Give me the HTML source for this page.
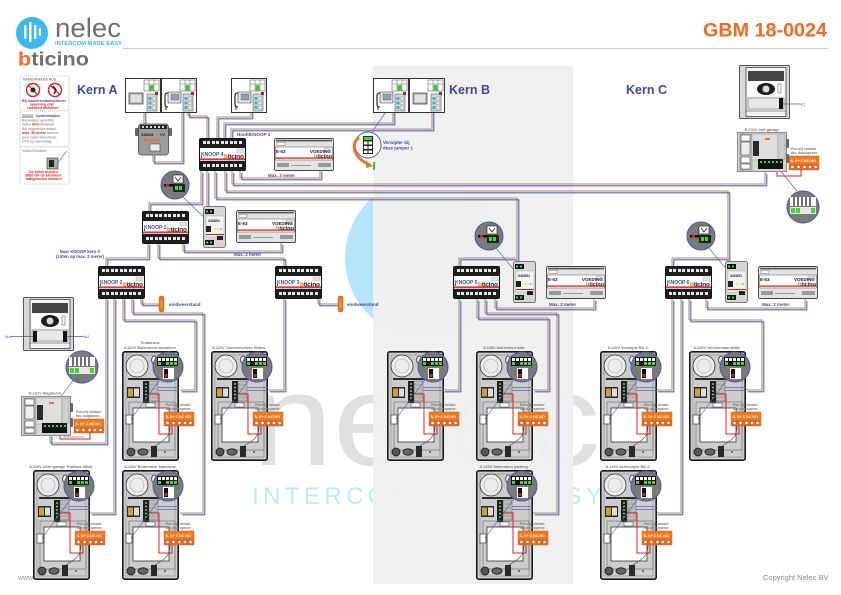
<!DOCTYPE html>
<html><head><meta charset="utf-8"><style>
html,body{margin:0;padding:0;background:#fff;}
svg{display:block;}
text{font-family:"Liberation Sans",Arial,sans-serif;}
</style></head><body>
<svg width="841" height="595" viewBox="0 0 841 595" xmlns="http://www.w3.org/2000/svg" xmlns:xlink="http://www.w3.org/1999/xlink">
<defs>
<pattern id="grille" width="2" height="2" patternUnits="userSpaceOnUse"><rect width="2" height="2" fill="#1e1e1e"/><rect x="0.5" y="0.5" width="1" height="1" fill="#bbb"/></pattern>

<symbol id="knoop" overflow="visible">
<rect x="0.5" y="0.5" width="46" height="32" rx="1.5" fill="#cfcfcf" stroke="#111" stroke-width="1"/>
<rect x="1" y="1" width="45" height="9" fill="#1e1e1e"/>
<g fill="#e6e6e6"><rect x="4" y="3" width="3" height="3"/><rect x="8" y="3" width="3" height="3"/><rect x="13" y="3" width="3" height="3"/><rect x="17" y="3" width="3" height="3"/><rect x="22" y="3" width="3" height="3"/><rect x="26" y="3" width="3" height="3"/><rect x="31" y="3" width="3" height="3"/><rect x="35" y="3" width="3" height="3"/><rect x="40" y="3" width="3" height="3"/></g>
<rect x="1" y="10" width="45" height="11" fill="#fff"/>
<rect x="38" y="11" width="7" height="4" fill="#e3e3e3" stroke="#999" stroke-width="0.3"/>
<rect x="1" y="20.5" width="45" height="1.3" fill="#d11"/>
<rect x="1" y="23" width="45" height="9" fill="#1e1e1e"/>
<g fill="#e6e6e6"><rect x="4" y="26" width="3" height="3"/><rect x="8" y="26" width="3" height="3"/><rect x="13" y="26" width="3" height="3"/><rect x="17" y="26" width="3" height="3"/><rect x="22" y="26" width="3" height="3"/><rect x="26" y="26" width="3" height="3"/><rect x="31" y="26" width="3" height="3"/><rect x="35" y="26" width="3" height="3"/><rect x="40" y="26" width="3" height="3"/></g>
<rect x="2" y="18" width="1" height="2" fill="#d11"/>
</symbol>

<symbol id="psu" overflow="visible">
<rect x="0.5" y="0.5" width="59" height="32" rx="1.5" fill="#e4e4e4" stroke="#444" stroke-width="0.9"/>
<rect x="2" y="1.8" width="56" height="1.6" fill="#555"/>
<rect x="3" y="4.5" width="8" height="3" fill="#fff" stroke="#555" stroke-width="0.4"/>
<rect x="1.5" y="9" width="57" height="13" fill="#fff" stroke="#555" stroke-width="0.5"/>
<rect x="1.5" y="19.5" width="57" height="1.2" fill="#d11"/>
<rect x="50" y="10" width="7" height="3.5" fill="#e0e0e0" stroke="#999" stroke-width="0.3"/>
<rect x="3" y="25" width="12" height="4" fill="#9a9a9a"/>
<rect x="44" y="25" width="13" height="4" fill="#9a9a9a"/>
<rect x="17" y="27" width="20" height="1" fill="#999"/>
</symbol>

<symbol id="mod" overflow="visible">
<rect x="0.5" y="0.5" width="22" height="41" rx="2" fill="#d6d6d6" stroke="#555" stroke-width="0.8"/>
<rect x="2" y="3" width="9" height="5" fill="#111"/>
<rect x="3" y="4.5" width="2" height="2" fill="#4d4"/><rect x="7" y="4.5" width="2" height="2" fill="#4d4"/>
<rect x="2" y="34" width="9" height="5" fill="#111"/>
<rect x="3" y="35.5" width="2" height="2" fill="#4d4"/><rect x="7" y="35.5" width="2" height="2" fill="#4d4"/>
<rect x="3" y="10" width="18" height="21" fill="#f3f3f3" stroke="#888" stroke-width="0.3"/>
<rect x="3" y="20" width="5" height="6" fill="#222"/>
<circle cx="12" cy="23" r="0.9" fill="#ed2"/><circle cx="15" cy="23" r="0.9" fill="#ed2"/><circle cx="18" cy="23" r="0.9" fill="#4d4"/>
<rect x="3" y="28" width="18" height="1" fill="#d11"/>
<rect x="14" y="30" width="6" height="4" fill="#222"/>
</symbol>

<symbol id="tileH" overflow="visible">
<rect x="0.5" y="0.5" width="35" height="34" fill="#fff" stroke="#333" stroke-width="1"/>
<rect x="19" y="2" width="15" height="11" fill="#fff" stroke="#444" stroke-width="0.5"/>
<path d="M24,2V13M29,2V13M19,6H34" stroke="#444" stroke-width="0.4"/>
<rect x="24.5" y="7" width="4" height="5.5" fill="#3c3"/>
<rect x="22" y="16" width="10" height="17" fill="#d5d5d5" stroke="#444" stroke-width="0.5"/>
<rect x="30" y="14" width="3" height="3" fill="#a22"/>
<g fill="#3bc"><rect x="23.5" y="19" width="3" height="3"/><rect x="23.5" y="23.5" width="3" height="3"/><rect x="23.5" y="28" width="3" height="3"/></g>
<g fill="#eee" stroke="#777" stroke-width="0.3"><rect x="27.5" y="19" width="3" height="3"/><rect x="27.5" y="23.5" width="3" height="3"/><rect x="27.5" y="28" width="3" height="3"/></g>
<rect x="7" y="14" width="13" height="11" rx="1" fill="#e6e6e6" stroke="#333" stroke-width="0.6"/>
<rect x="10" y="16" width="8" height="6" fill="#8fa3b8" stroke="#333" stroke-width="0.3"/>
<path d="M7,15 q-3,0 -3,3 v8 q0,3 3,3" fill="none" stroke="#333" stroke-width="1.3"/>
<path d="M5,28 v4" stroke="#333" stroke-width="1"/>
</symbol>

<symbol id="tileM" overflow="visible">
<rect x="0.5" y="0.5" width="35" height="34" fill="#fff" stroke="#333" stroke-width="1"/>
<rect x="19" y="2" width="15" height="11" fill="#fff" stroke="#444" stroke-width="0.5"/>
<path d="M24,2V13M29,2V13M19,6H34" stroke="#444" stroke-width="0.4"/>
<rect x="24.5" y="7" width="4" height="5.5" fill="#3c3"/>
<rect x="22" y="16" width="10" height="17" fill="#d5d5d5" stroke="#444" stroke-width="0.5"/>
<rect x="30" y="14" width="3" height="3" fill="#a22"/>
<g fill="#3bc"><rect x="23.5" y="19" width="3" height="3"/><rect x="23.5" y="23.5" width="3" height="3"/><rect x="23.5" y="28" width="3" height="3"/></g>
<g fill="#eee" stroke="#777" stroke-width="0.3"><rect x="27.5" y="19" width="3" height="3"/><rect x="27.5" y="23.5" width="3" height="3"/><rect x="27.5" y="28" width="3" height="3"/></g>
<rect x="4" y="15" width="14" height="11" fill="#bdbdbd" stroke="#333" stroke-width="0.7"/>
<rect x="6" y="17" width="10" height="7" fill="#dde4ea"/>
</symbol>

<symbol id="zc" overflow="visible">
<circle r="15" fill="#7a7a7a" stroke="#4a58a8" stroke-width="1"/>
<rect x="-11" y="-10" width="21" height="9" fill="#111"/>
<g fill="#fff"><rect x="-10" y="-9" width="3" height="3"/><rect x="-6" y="-9" width="3" height="3"/><rect x="-2" y="-9" width="3" height="3"/><rect x="2" y="-9" width="3" height="3"/><rect x="6" y="-9" width="3" height="3"/></g>
<g fill="#3d3"><rect x="-10" y="-5" width="3" height="3"/><rect x="-2" y="-5" width="3" height="3"/><rect x="2" y="-5" width="3" height="3"/><rect x="6" y="-5" width="3" height="3"/></g>
<rect x="-5" y="1" width="11" height="11" fill="#fff"/>
<rect x="-4" y="2" width="4" height="9" fill="#111"/>
<rect x="-3.5" y="7" width="3" height="3" fill="#c22"/>
</symbol>

<symbol id="ob" overflow="visible">
<rect x="0" y="0" width="30" height="14" fill="#f47a20" stroke="#b4551a" stroke-width="0.4"/>
<text x="1.5" y="5.8" font-size="3.6" fill="#fff" font-weight="bold">S-  S+ C NC NO</text>
<rect x="0" y="8" width="30" height="6" fill="#e8661a"/>
<g fill="#fff" stroke="#333" stroke-width="0.3"><circle cx="3.5" cy="11" r="1.6"/><circle cx="9.5" cy="11" r="1.6"/><circle cx="15.5" cy="11" r="1.6"/><circle cx="21" cy="11" r="1.6"/><circle cx="26.5" cy="11" r="1.6"/></g>
</symbol>

<symbol id="st" overflow="visible">
<rect x="0.8" y="0.8" width="55.4" height="108.4" rx="2" fill="#cdcdcd" stroke="#1a1a1a" stroke-width="1.6"/>
<rect x="4" y="4" width="49" height="102" fill="none" stroke="#8a8a8a" stroke-width="0.6"/>
<circle cx="15" cy="15" r="11" fill="#ececec" stroke="#333" stroke-width="0.8"/>
<circle cx="15" cy="15" r="7" fill="none" stroke="#aaa" stroke-width="0.6"/>
<ellipse cx="32" cy="9" rx="2.3" ry="4" fill="#fff" stroke="#222" stroke-width="0.8"/>
<rect x="6" y="27" width="36" height="2" fill="#2a2a2a"/>
<rect x="5" y="36" width="13" height="11" fill="#2a2a2a"/>
<rect x="6" y="37.5" width="5" height="8" fill="#c9a33a"/>
<rect x="12" y="37.5" width="5" height="8" fill="#ddd"/>
<rect x="21" y="30" width="6" height="22" fill="#1e1e1e"/>
<g fill="#8f8"><circle cx="24" cy="33" r="0.9"/><circle cx="24" cy="36.5" r="0.9"/><circle cx="24" cy="40" r="0.9"/><circle cx="24" cy="43.5" r="0.9"/><circle cx="24" cy="47" r="0.9"/></g>
<rect x="27" y="30" width="9" height="20" fill="#bdbdbd" stroke="#555" stroke-width="0.4"/>
<path d="M27,34H36M27,38H36M27,42H36M27,46H36" stroke="#777" stroke-width="0.4"/>
<path d="M36,36.5 H57 M36,39.5 H57" stroke="#5b67b5" stroke-width="0.7"/>
<rect x="7" y="51" width="46" height="48" fill="none" stroke="#666" stroke-width="0.6"/>
<rect x="11" y="57" width="36" height="34" fill="#fff" stroke="#333" stroke-width="0.8"/>
<rect x="4" y="64" width="6" height="9" fill="#fff" stroke="#222" stroke-width="0.6"/>
<rect x="24" y="52" width="9" height="4" fill="#fff" stroke="#333" stroke-width="0.5"/>
<circle cx="9" cy="101" r="4" fill="#555" stroke="#1a1a1a" stroke-width="0.8"/>
<ellipse cx="21" cy="101" rx="5" ry="3.2" fill="#666" stroke="#1a1a1a" stroke-width="0.8"/>
<rect x="29" y="95" width="6" height="11" fill="#2a2a2a"/>
<circle cx="43" cy="101" r="1" fill="#555"/>
<path d="M27,43 H37 V83 H50 V74" fill="none" stroke="#e02020" stroke-width="1"/>
<path d="M48,75 C48,88 40,90 33,95" fill="none" stroke="#444" stroke-width="0.6"/>
<path d="M40,26 L9,68" stroke="#4a58a8" stroke-width="0.6"/>
<text x="44" y="55" font-size="3.4" fill="#777" font-weight="bold">Pot.vrij contact</text>
<text x="44" y="59" font-size="3.4" fill="#777" font-weight="bold">tbv deuropener</text>
<use xlink:href="#ob" x="42" y="61"/>
<use xlink:href="#zc" x="46" y="16"/>
</symbol>

<symbol id="sw" overflow="visible">
<circle r="14" fill="#7a7a7a" stroke="#4a58a8" stroke-width="1"/>
<rect x="-2" y="-10" width="10" height="8" fill="#fff" stroke="#111" stroke-width="0.6"/>
<path d="M0,-8 L3,-4 L6,-8" fill="none" stroke="#111" stroke-width="0.7"/>
<rect x="-11" y="-1" width="9" height="2.5" fill="#111"/>
<rect x="-9" y="-1" width="3" height="2.5" fill="#c22"/>
<rect x="-2" y="-1" width="12" height="8" fill="#222"/>
<rect x="0" y="1" width="3" height="4" fill="#3d3"/><rect x="4" y="1" width="3" height="4" fill="#3d3"/>
</symbol>

<symbol id="pc" overflow="visible">
<circle r="16" fill="#7a7a7a" stroke="#4a58a8" stroke-width="1"/>
<rect x="-13" y="-10" width="26" height="9" fill="#fff"/>
<path d="M-9,-10V-1M-5,-10V-1M-1,-10V-1M3,-10V-1M7,-10V-1" stroke="#111" stroke-width="1.2"/>
<rect x="-13" y="0" width="26" height="7" fill="#e8e8e8"/>
<rect x="-12" y="1" width="4" height="5" fill="#3d3"/><rect x="-7" y="1" width="4" height="5" fill="#3d3"/><rect x="8" y="1" width="4" height="5" fill="#3d3"/>
</symbol>

<symbol id="ds" overflow="visible">
<rect x="0.5" y="0.5" width="50" height="53" rx="1" fill="#d8d8d8" stroke="#555" stroke-width="1"/>
<rect x="7" y="2.5" width="40" height="49" fill="#f2f2f2" stroke="#333" stroke-width="0.7"/>
<rect x="9" y="6" width="36" height="10" fill="url(#grille)"/>
<rect x="9" y="17" width="36" height="14" fill="#fff"/>
<ellipse cx="27" cy="24" rx="9" ry="6" fill="#1e1e1e"/>
<circle cx="27" cy="24" r="3.5" fill="#ddd" stroke="#777" stroke-width="0.5"/>
<rect x="39" y="19" width="3" height="9" fill="#fff" stroke="#222" stroke-width="0.4"/>
<rect x="9" y="33" width="36" height="11" fill="#e8e8e8" stroke="#555" stroke-width="0.5"/>
<line x1="7" y1="46" x2="47" y2="46" stroke="#333" stroke-width="0.6"/>
</symbol>

<symbol id="gar" overflow="visible">
<rect x="0.5" y="0.5" width="49" height="39" fill="#d4d4d4" stroke="#777" stroke-width="0.8"/>
<rect x="3" y="2" width="12" height="36" fill="#c4c4c4" stroke="#666" stroke-width="0.4"/>
<rect x="4" y="3" width="9" height="6" fill="#fff" stroke="#333" stroke-width="0.5"/>
<rect x="4" y="10" width="9" height="13" fill="#eee" stroke="#333" stroke-width="0.5"/>
<rect x="4" y="25" width="9" height="6" fill="#fff" stroke="#333" stroke-width="0.5"/>
<rect x="4" y="32" width="9" height="5" fill="#fff" stroke="#333" stroke-width="0.5"/>
<rect x="15" y="2" width="26" height="26" fill="#dedede" stroke="#888" stroke-width="0.4"/>
<rect x="16" y="9" width="6" height="15" fill="#2a2a2a"/>
<rect x="28" y="6" width="5" height="2" fill="#f47a20"/>
<rect x="21" y="27" width="25" height="10" fill="#111"/>
<g fill="#4c4"><rect x="23" y="29" width="2" height="2"/><rect x="27" y="29" width="2" height="2"/><rect x="31" y="29" width="2" height="2"/><rect x="35" y="29" width="2" height="2"/><rect x="39" y="29" width="2" height="2"/><rect x="43" y="29" width="2" height="2"/></g>
<rect x="41" y="2" width="7" height="25" fill="#cfcfcf" stroke="#888" stroke-width="0.4"/>
<rect x="49" y="7" width="3" height="9" rx="1" fill="#666"/>
<rect x="49" y="22" width="3" height="9" rx="1" fill="#666"/>
</symbol>

<g id="wires" fill="none" stroke-linejoin="round">
<path d="M149,100 H144 V124"/>
<path d="M153,154 V162 H182 V100 H185"/>
<path d="M188,104 V116 H207 V138"/>
<path d="M217,138 V117 H251 V100"/>
<path d="M224,138 V123 H393 V100"/>
<path d="M231,138 V129 H432 V100"/>
<path d="M240,171 V178 H320 V170"/>
<path d="M232,171 V184 H765 V172"/>
<path d="M225,171 V191 H728 V262"/>
<path d="M215,171 V198 H517 V262"/>
<path d="M207,171 V206"/>
<path d="M201,171 V203 H149 V211"/>
<path d="M183,243 V251 H281 V243"/>
<path d="M148,243 V258 H106 V266"/>
<path d="M158,243 V258 H284 V266"/>
<path d="M106,298 V443 H50 V435"/>
<path d="M114,298 V513 H90"/>
<path d="M123,298 V320 H195 V390 H180"/>
<path d="M132,298 V313 H203 V513 H180"/>
<path d="M141,298 V304 H159"/>
<path d="M284,298 V390 H268"/>
<path d="M318,298 V304 H338"/>
<path d="M459,266 V258 H515"/>
<path d="M495,299 V308 H594 V299"/>
<path d="M459,299 V390 H443"/>
<path d="M477,299 V318 H548 V390 H533"/>
<path d="M485,299 V313 H557 V513 H533"/>
<path d="M672,266 V258 H727"/>
<path d="M706,299 V308 H805 V299"/>
<path d="M672,299 V390 H656"/>
<path d="M681,299 V513 H656"/>
<path d="M689,299 V320 H762 V390 H746"/>
</g>
</defs>

<rect width="841" height="595" fill="#fff"/>

<!-- watermark -->
<circle cx="425" cy="258" r="80" fill="#b5e4fb"/>
<text x="252" y="465" font-size="131" fill="#e0e0e0" textLength="348" lengthAdjust="spacingAndGlyphs">nelec</text>
<text x="252" y="504" font-size="24" fill="#c2e8fb" textLength="350" lengthAdjust="spacing">INTERCOM MADE EASY</text>

<!-- grey Kern B panel -->
<rect x="373" y="66" width="200" height="518" fill="#f0f0f0" fill-opacity="0.97"/>

<!-- header -->
<circle cx="32" cy="33" r="16" fill="#3db8ec"/>
<g fill="#fff"><rect x="24" y="25" width="2.5" height="14" rx="1"/><rect x="29" y="22" width="2.5" height="20" rx="1"/><rect x="34" y="25" width="2.5" height="14" rx="1"/><rect x="39" y="28" width="2" height="8" rx="1"/></g>
<text x="55" y="37" font-size="27" fill="#707070" textLength="66" lengthAdjust="spacingAndGlyphs">nelec</text>
<text x="55" y="45" font-size="5.5" font-weight="bold" fill="#3db8ec" textLength="67" lengthAdjust="spacingAndGlyphs">INTERCOM MADE EASY</text>
<line x1="123" y1="48.5" x2="828" y2="48.5" stroke="#bdbdbd" stroke-width="0.8"/>
<text x="18" y="65.5" font-size="19" font-weight="bold" textLength="71" lengthAdjust="spacingAndGlyphs"><tspan fill="#f26a21">b</tspan><tspan fill="#707070">ticino</tspan></text>
<text x="703" y="36.5" font-size="19.5" font-weight="bold" fill="#f26a21" textLength="124" lengthAdjust="spacingAndGlyphs">GBM 18-0024</text>

<text x="77" y="94" font-size="12.5" font-weight="bold" fill="#3f4a9c">Kern A</text>
<text x="449" y="94" font-size="12.5" font-weight="bold" fill="#3f4a9c">Kern B</text>
<text x="626" y="94" font-size="12.5" font-weight="bold" fill="#3f4a9c">Kern C</text>

<!-- legend -->
<g font-size="3.6" font-weight="bold">
<rect x="20" y="76" width="49" height="35" fill="#fff" stroke="#999" stroke-width="0.6" stroke-dasharray="1,1"/>
<text x="22" y="80.5" fill="#888">TWEEDRAADS BUS</text>
<circle cx="33" cy="90" r="6.5" fill="#fff" stroke="#e02020" stroke-width="1.4"/>
<path d="M28.5,85.5 L37.5,94.5" stroke="#e02020" stroke-width="1.2"/>
<circle cx="33" cy="90" r="2.5" fill="#222"/>
<circle cx="55" cy="90" r="6.5" fill="#fff" stroke="#e02020" stroke-width="1.4"/>
<path d="M50.5,85.5 L59.5,94.5" stroke="#e02020" stroke-width="1.2"/>
<path d="M53,86 l3,4 -2,4" stroke="#222" stroke-width="1.5" fill="none"/>
<text x="22" y="102" fill="#3f4a9c">Bij monteren/demonteren</text>
<text x="30" y="105.5" fill="#e02020">spanning eraf</text>
<text x="27" y="109" fill="#e02020">voedend afsluiten!</text>
<rect x="20" y="111" width="49" height="36" fill="#fff" stroke="#999" stroke-width="0.6" stroke-dasharray="1,1"/>
<path d="M22,115 H33" stroke="#b38b6d" stroke-width="1"/><path d="M22,117 H33" stroke="#5b67b5" stroke-width="1"/>
<text x="36" y="117" fill="#3f4a9c">systeemkabel</text>
<text x="22" y="121.5" fill="#999">Bij andere geteilde</text>
<text x="22" y="125.5" fill="#999">kabel <tspan fill="#e02020">60%</tspan> afstand!</text>
<text x="22" y="130" fill="#999">Bij ongeteilde kabel</text>
<text x="22" y="134" fill="#999"><tspan fill="#e02020">max. 50 meter</tspan> buiten-</text>
<text x="22" y="138.5" fill="#999">post naar videofoon.</text>
<text x="22" y="142.5" fill="#999">UTP op aanvraag.</text>
<rect x="20" y="147" width="49" height="37" fill="#fff" stroke="#999" stroke-width="0.6" stroke-dasharray="1,1"/>
<text x="22" y="152" fill="#999">Video/Verdeler</text>
<rect x="47" y="158" width="11" height="11" fill="#aaa" stroke="#333" stroke-width="0.6"/>
<rect x="49" y="160" width="5" height="7" fill="#222"/>
<path d="M58,163 q5,-8 9,-12" stroke="#5b67b5" stroke-width="0.6" fill="none"/>
<text x="29" y="173" fill="#e02020">De adres moeten</text>
<text x="25" y="176.5" fill="#e02020">altijd OP de klemmen</text>
<text x="26" y="180" fill="#e02020">aangesloten worden!</text>
</g>

<!-- wires -->
<use xlink:href="#wires" stroke="#b38b6d" stroke-width="1.1"/>
<use xlink:href="#wires" stroke="#5b67b5" stroke-width="1.1" transform="translate(1.8,1.8)"/>

<!-- thin blue connector lines -->
<g stroke="#4a58a8" stroke-width="0.6" fill="none">
<path d="M372,132 L392,103"/>
<path d="M182,196 L213,226"/>
<path d="M495,247 L525,283"/>
<path d="M708,247 L738,283"/>
<path d="M74,379 L48,414"/>
<path d="M797,191 L765,152"/>
</g>

<!-- top tiles -->
<use xlink:href="#tileM" x="125" y="78"/>
<use xlink:href="#tileH" x="161" y="78"/>
<use xlink:href="#tileH" x="231" y="78"/>
<use xlink:href="#tileH" x="373" y="78"/>
<use xlink:href="#tileM" x="409" y="78"/>

<!-- video distributor kern A -->
<rect x="135" y="128" width="4" height="8" rx="1" fill="#666"/>
<rect x="168" y="128" width="4" height="8" rx="1" fill="#666"/>
<rect x="138.5" y="124" width="30" height="31" rx="3" fill="#9c9c9c" stroke="#444" stroke-width="0.8"/>
<rect x="140" y="125" width="27" height="4" fill="#222"/>
<g fill="#ddd"><rect x="142" y="126" width="2" height="2"/><rect x="146" y="126" width="2" height="2"/><rect x="150" y="126" width="2" height="2"/><rect x="154" y="126" width="2" height="2"/><rect x="158" y="126" width="2" height="2"/><rect x="162" y="126" width="2" height="2"/></g>
<text x="141" y="136" font-size="3.8" font-weight="bold" fill="#222">346841</text>
<text x="160" y="136" font-size="3.8" font-weight="bold" fill="#222">VV</text>
<text x="144" y="142" font-size="5" font-weight="bold" fill="#f26a21">bticino</text>
<rect x="150" y="144" width="10" height="7" fill="#eee" stroke="#333" stroke-width="0.5"/>

<!-- KNOOP 4 + PSU -->
<use xlink:href="#knoop" x="199" y="138"/>
<text x="237" y="136" font-size="4.5" font-weight="bold" fill="#3f4a9c">HoofdKNOOP 4</text>
<use xlink:href="#psu" x="274" y="138"/>
<text x="268" y="177" font-size="4.5" font-weight="bold" fill="#3f4a9c">Max. 2 meter</text>

<!-- jumper circle -->
<circle cx="368" cy="145" r="13" fill="#fff" stroke="#4a58a8" stroke-width="1"/>
<rect x="363" y="136" width="10" height="18" fill="#222"/>
<rect x="364" y="137" width="8" height="3" fill="#3d3"/>
<g fill="#fff"><rect x="364" y="141.5" width="3.5" height="3"/><rect x="368.5" y="141.5" width="3.5" height="3"/><rect x="364" y="146" width="3.5" height="3"/><rect x="368.5" y="146" width="3.5" height="3"/><rect x="364" y="150.5" width="3.5" height="2.5"/><rect x="368.5" y="150.5" width="3.5" height="2.5"/></g>
<path d="M359,137 C350,145 354,158 370,165" fill="none" stroke="#f37021" stroke-width="3"/>
<path d="M366,161 L373,166 L366,168 Z" fill="#f37021"/>
<rect x="373" y="162" width="2" height="8" fill="#3c3"/>
<text x="383" y="144" font-size="4.5" font-weight="bold" fill="#3f4a9c">Verwijder bij</text>
<text x="383" y="149.5" font-size="4.5" font-weight="bold" fill="#3f4a9c">deze jumper 1</text>

<!-- kern A second level -->
<use xlink:href="#sw" x="175" y="185"/>
<use xlink:href="#knoop" x="142" y="211"/>
<use xlink:href="#mod" x="203" y="206"/>
<text x="208" y="222" font-size="3.6" font-weight="bold" fill="#222">346851</text>
<use xlink:href="#psu" x="236" y="210"/>
<text x="234" y="256" font-size="4.5" font-weight="bold" fill="#3f4a9c">Max. 2 meter</text>
<text x="80" y="253" font-size="4.3" font-weight="bold" fill="#3f4a9c" text-anchor="middle">Naar KNOOP kern A</text>
<text x="80" y="258" font-size="4.3" font-weight="bold" fill="#3f4a9c" text-anchor="middle">(zitten op max. 2 meter)</text>

<use xlink:href="#knoop" x="98" y="266"/>
<use xlink:href="#knoop" x="275" y="266"/>

<!-- eindweerstand -->
<rect x="159" y="296" width="5" height="16" rx="2" fill="#f37021" stroke="#b4551a" stroke-width="0.4"/>
<rect x="160.5" y="300" width="2" height="8" fill="#c8a33a"/>
<text x="169" y="306" font-size="4.5" font-weight="bold" fill="#3f4a9c">eindweerstand</text>
<rect x="338" y="296" width="5" height="16" rx="2" fill="#f37021" stroke="#b4551a" stroke-width="0.4"/>
<rect x="339.5" y="300" width="2" height="8" fill="#c8a33a"/>
<text x="347" y="306" font-size="4.5" font-weight="bold" fill="#3f4a9c">eindweerstand</text>

<!-- kern A door station + garage -->
<use xlink:href="#ds" x="23" y="297"/>
<rect x="33" y="331" width="4" height="11" fill="#111"/>
<rect x="63" y="331" width="4" height="11" fill="#111"/>
<path d="M10,336.5 H33 M67,336.5 H83" stroke="#4a58a8" stroke-width="0.7"/>
<text x="5" y="338" font-size="3.5" fill="#4a58a8">Nc1</text>
<text x="83" y="338" font-size="3.5" fill="#4a58a8">Nc2</text>
<use xlink:href="#pc" x="82" y="367"/>
<use xlink:href="#gar" x="21" y="396"/>
<text x="45" y="394.5" font-size="3.8" font-weight="bold" fill="#777" text-anchor="middle">E-131V Slagboom</text>
<text x="76" y="413" font-size="3.5" font-weight="bold" fill="#777">Pot.vrij contact</text>
<text x="76" y="417" font-size="3.5" font-weight="bold" fill="#777">tbv. slagboom</text>
<use xlink:href="#ob" x="74" y="419"/>
<path d="M60,436 V439 H90 V433" fill="none" stroke="#e02020" stroke-width="1"/>
<path d="M64,436 V437 H84" fill="none" stroke="#555" stroke-width="0.5"/>

<!-- kern B -->
<use xlink:href="#sw" x="489" y="236"/>
<use xlink:href="#knoop" x="453" y="266"/>
<use xlink:href="#mod" x="513" y="261"/>
<text x="518" y="277" font-size="3.6" font-weight="bold" fill="#222">346851</text>
<use xlink:href="#psu" x="546" y="266"/>
<text x="549" y="306" font-size="4.5" font-weight="bold" fill="#3f4a9c">Max. 2 meter</text>

<!-- kern C -->
<use xlink:href="#ds" x="739" y="65"/>
<rect x="779" y="98" width="4" height="11" fill="#111"/>
<path d="M783,104 H799" stroke="#4a58a8" stroke-width="0.7"/>
<text x="799" y="105.5" font-size="3.5" fill="#4a58a8">Nc1</text>
<use xlink:href="#gar" x="737" y="132"/>
<text x="762" y="131" font-size="3.8" font-weight="bold" fill="#777" text-anchor="middle">E-131V Inrit garage</text>
<text x="791" y="150" font-size="3.5" font-weight="bold" fill="#777">Pot.vrij contact</text>
<text x="791" y="154" font-size="3.5" font-weight="bold" fill="#777">tbv. deuropener</text>
<use xlink:href="#ob" x="789" y="156"/>
<path d="M777,172 V176 H801 V170" fill="none" stroke="#e02020" stroke-width="1"/>
<use xlink:href="#pc" x="803" y="207"/>
<use xlink:href="#sw" x="701" y="236"/>
<use xlink:href="#knoop" x="665" y="266"/>
<use xlink:href="#mod" x="725" y="261"/>
<text x="730" y="277" font-size="3.6" font-weight="bold" fill="#222">346851</text>
<use xlink:href="#psu" x="758" y="266"/>
<text x="762" y="306" font-size="4.5" font-weight="bold" fill="#3f4a9c">Max. 2 meter</text>

<!-- knoop labels -->
<g font-weight="bold">
<text x="201" y="156" font-size="5" fill="#3f4a9c">KNOOP 4</text>
<text x="144" y="229" font-size="5" fill="#3f4a9c">KNOOP 1</text>
<text x="100" y="284" font-size="5" fill="#3f4a9c">KNOOP 2</text>
<text x="277" y="284" font-size="5" fill="#3f4a9c">KNOOP 3</text>
<text x="455" y="284" font-size="5" fill="#3f4a9c">KNOOP 5</text>
<text x="667" y="284" font-size="5" fill="#3f4a9c">KNOOP 6</text>
<g font-size="6.5" lengthAdjust="spacingAndGlyphs">
<text x="224" y="158.5" textLength="20"><tspan fill="#f26a21">b</tspan><tspan fill="#222">ticino</tspan></text>
<text x="167" y="231.5" textLength="20"><tspan fill="#f26a21">b</tspan><tspan fill="#222">ticino</tspan></text>
<text x="123" y="286.5" textLength="20"><tspan fill="#f26a21">b</tspan><tspan fill="#222">ticino</tspan></text>
<text x="300" y="286.5" textLength="20"><tspan fill="#f26a21">b</tspan><tspan fill="#222">ticino</tspan></text>
<text x="478" y="286.5" textLength="20"><tspan fill="#f26a21">b</tspan><tspan fill="#222">ticino</tspan></text>
<text x="690" y="286.5" textLength="20"><tspan fill="#f26a21">b</tspan><tspan fill="#222">ticino</tspan></text>
</g>
<g font-size="4.5" fill="#222">
<text x="276" y="153">E-63</text><text x="310" y="153">VOEDING</text>
<text x="238" y="225">E-63</text><text x="272" y="225">VOEDING</text>
<text x="548" y="281">E-63</text><text x="582" y="281">VOEDING</text>
<text x="760" y="281">E-63</text><text x="794" y="281">VOEDING</text>
</g>
<g font-size="5.5">
<text x="314" y="158" textLength="18"><tspan fill="#f26a21">b</tspan><tspan fill="#222">ticino</tspan></text>
<text x="276" y="230" textLength="18"><tspan fill="#f26a21">b</tspan><tspan fill="#222">ticino</tspan></text>
<text x="586" y="286" textLength="18"><tspan fill="#f26a21">b</tspan><tspan fill="#222">ticino</tspan></text>
<text x="798" y="286" textLength="18"><tspan fill="#f26a21">b</tspan><tspan fill="#222">ticino</tspan></text>
</g>
</g>

<!-- indoor stations -->
<use xlink:href="#st" x="122" y="351"/>
<use xlink:href="#st" x="211" y="351"/>
<use xlink:href="#st" x="33" y="470"/>
<use xlink:href="#st" x="122" y="470"/>
<use xlink:href="#st" x="387" y="351"/>
<use xlink:href="#st" x="476" y="351"/>
<use xlink:href="#st" x="476" y="470"/>
<use xlink:href="#st" x="600" y="351"/>
<use xlink:href="#st" x="689" y="351"/>
<use xlink:href="#st" x="600" y="470"/>

<g font-size="3.8" font-weight="bold" fill="#777">
<text x="150" y="344" text-anchor="middle">Teubdruus</text>
<text x="150" y="349" text-anchor="middle">8-120V Buitendeur woonkeer</text>
<text x="239" y="349" text-anchor="middle">8-120V Tummerscheur Rebus</text>
<text x="61" y="468" text-anchor="middle">8-120V Uitrit garage Trablaas altide</text>
<text x="150" y="468" text-anchor="middle">8-120V Buitendeur kaantruw</text>
<text x="504" y="349" text-anchor="middle">8-120V buitendeur kale</text>
<text x="504" y="468" text-anchor="middle">8-120V buitendeur parking</text>
<text x="628" y="349" text-anchor="middle">8-120V Voorzijde BD-C</text>
<text x="717" y="349" text-anchor="middle">8-120V Velvoerbaan ablde</text>
<text x="628" y="468" text-anchor="middle">8-120V Achterzijde BD-C</text>
</g>

<text x="18" y="580" font-size="7" fill="#999">www</text>
<text x="763" y="580" font-size="7.5" fill="#8a8a8a">Copyright Nelec BV</text>
</svg>
</body></html>
